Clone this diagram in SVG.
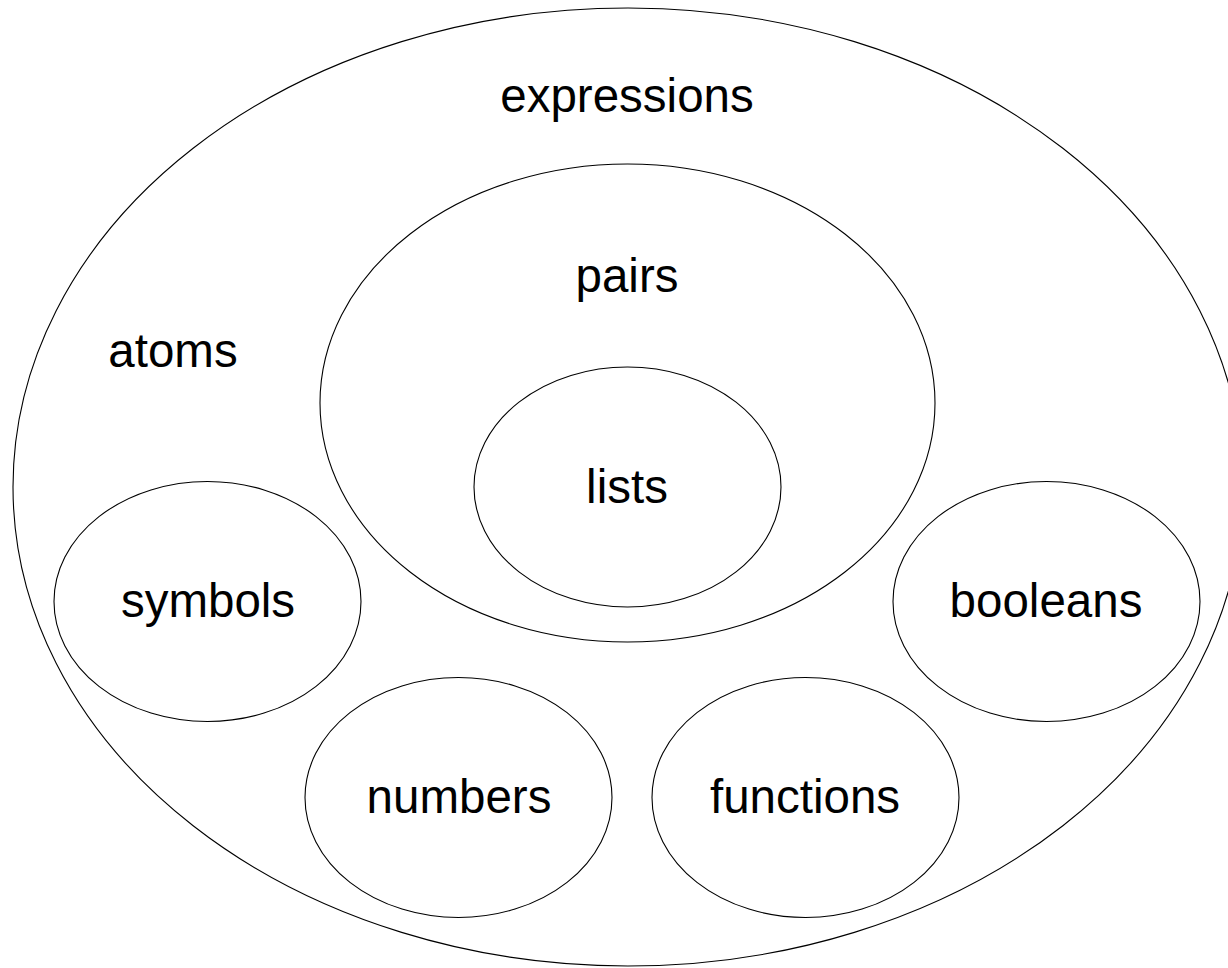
<svg xmlns="http://www.w3.org/2000/svg" width="1228" height="968" viewBox="0 0 1228 968">
  <style>
    .set { fill: none; stroke: #000; stroke-width: 1.1; }
    .label { font-family: "Liberation Sans", Arial, sans-serif; font-size: 47.5px; fill: #000; text-anchor: middle; }
  </style>
  <rect width="1228" height="968" fill="#fff"/>
  <g id="expressions">
    <ellipse class="set" cx="628" cy="487" rx="615" ry="479"/>
    <text class="label" x="627" y="112">expressions</text>
  </g>
  <g id="atoms">
    <text class="label" x="173" y="367">atoms</text>
  </g>
  <g id="pairs">
    <ellipse class="set" cx="627.5" cy="403" rx="307.5" ry="239"/>
    <text class="label" x="627" y="292">pairs</text>
  </g>
  <g id="lists">
    <ellipse class="set" cx="627.5" cy="487" rx="153.5" ry="120"/>
    <text class="label" x="627" y="503">lists</text>
  </g>
  <g id="symbols">
    <ellipse class="set" cx="207.5" cy="601.5" rx="153.5" ry="120"/>
    <text class="label" x="208" y="617">symbols</text>
  </g>
  <g id="booleans">
    <ellipse class="set" cx="1046.5" cy="601.5" rx="153.5" ry="120"/>
    <text class="label" x="1046" y="617">booleans</text>
  </g>
  <g id="numbers">
    <ellipse class="set" cx="458.5" cy="797.5" rx="153.5" ry="120"/>
    <text class="label" x="459" y="813">numbers</text>
  </g>
  <g id="functions">
    <ellipse class="set" cx="805.5" cy="797.5" rx="153.5" ry="120"/>
    <text class="label" x="805" y="813">functions</text>
  </g>
  <g id="connectors"/>
</svg>
